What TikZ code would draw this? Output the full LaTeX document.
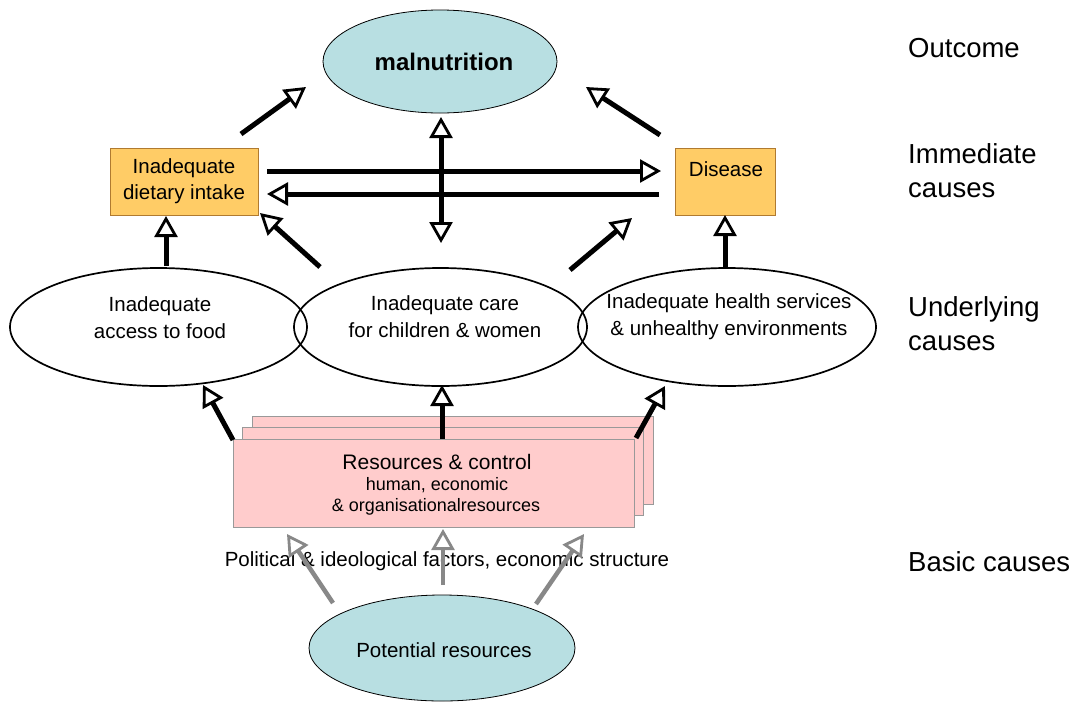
\documentclass[tikz,border=0pt]{standalone}
\usepackage{fontspec}
\setmainfont{Liberation Sans}
\usetikzlibrary{arrows.meta,shapes.geometric}
\definecolor{boxorange}{HTML}{FFCC66}
\definecolor{boxedge}{HTML}{B07A30}
\definecolor{lightblue}{HTML}{B8DFE2}
\definecolor{pinkfill}{HTML}{FFCCCC}
\definecolor{pinkedge}{HTML}{999999}
\definecolor{arrowgray}{HTML}{888888}
\tikzset{
  txt/.style={inner sep=0pt, align=center, font=\fontsize{20.5}{27}\selectfont},
  smalltxt/.style={inner sep=0pt, font=\fontsize{18}{22}\selectfont},
  sidetxt/.style={inner sep=0pt, anchor=west, align=left, font=\fontsize{27.5}{34}\selectfont},
  ebox/.style={draw=boxedge, fill=boxorange, line width=0.8pt, inner sep=0pt},
  oval/.style={ellipse, draw=black, line width=1.7pt, inner sep=0pt},
  bluoval/.style={ellipse, draw=black, fill=lightblue, line width=0.8pt, inner sep=0pt},
  resbox/.style={draw=pinkedge, fill=pinkfill, line width=1pt, inner sep=0pt, minimum width=401pt, minimum height=88pt},
  opentip/.tip={Triangle[fill=white, length=21pt, width=23pt, line width'=2.8pt]},
  bigarrow/.style={line width=5pt, -opentip},
  dblarrow/.style={line width=5pt, opentip-opentip},
  grayarrow/.style={draw=arrowgray, line width=4.5pt, -opentip}
}
\begin{document}
\begin{tikzpicture}[x=1pt,y=-1pt]
\useasboundingbox[fill=white] (0,0) rectangle (1078,702);

% outcome
\node[bluoval, minimum width=234pt, minimum height=103pt] (mal) at (440,61.5) {};
\node[txt, font=\bfseries\fontsize{24}{28}\selectfont] (maltxt) at (444,62) {malnutrition};

% immediate causes
\node[ebox, minimum width=148pt, minimum height=67pt] (diet) at (184,181.5) {};
\node[txt, font=\fontsize{20.5}{26}\selectfont] (diettxt) at (184,181) {Inadequate\\dietary intake};
\node[ebox, minimum width=100pt, minimum height=67pt] (disease) at (725,181.5) {};
\node[txt] (diseasetxt) at (726,169) {Disease};

% underlying causes
\node[oval, minimum width=297pt, minimum height=118pt] (food) at (158.5,327) {};
\node[oval, minimum width=293pt, minimum height=118pt] (care) at (440.5,327) {};
\node[oval, minimum width=298pt, minimum height=118pt] (health) at (727,327) {};
\node[txt] (foodtxt) at (160,318) {Inadequate\\access to food};
\node[txt] (caretxt) at (445,317) {Inadequate care\\for children \& women};
\node[txt] (healthtxt) at (729,317) {Inadequate health services\\\& unhealthy environments};

% resources
\node[resbox] (res3) at (452.5,460) {};
\node[resbox] (res2) at (443,471) {};
\node[resbox] (res) at (433.5,483) {};
\node[inner sep=0pt, font=\fontsize{21}{24}\selectfont] (restxt) at (437,462) {Resources \& control};
\node[smalltxt] (restxt2) at (437,485) {human, economic};
\node[smalltxt] (restxt3) at (436,507) {\& organisationalresources};

% basic
\node[txt] (poltxt) at (447,561) {Political \& ideological factors, economic structure};
\node[bluoval, minimum width=266pt, minimum height=106pt] (pot) at (442,648) {};
\node[txt] (pottxt) at (444,650) {Potential resources};

% side labels
\node[sidetxt] (l1) at (908,48) {Outcome};
\node[sidetxt] (l2) at (908,171) {Immediate\\causes};
\node[sidetxt] (l3) at (908,324) {Underlying\\causes};
\node[sidetxt] (l4) at (908,562) {Basic causes};

% arrow end coordinates
\coordinate (a1s) at (241,134);  \coordinate (a1e) at (306,87);
\coordinate (a2s) at (660,135);  \coordinate (a2e) at (586,87);
\coordinate (a3s) at (267,171);  \coordinate (a3e) at (661,171);
\coordinate (a4s) at (659,194);  \coordinate (a4e) at (267,194);
\coordinate (a5s) at (441,117);  \coordinate (a5e) at (441,243);
\coordinate (a6s) at (166,266);  \coordinate (a6e) at (166,216);
\coordinate (a7s) at (320,267);  \coordinate (a7e) at (260,213);
\coordinate (a8s) at (570,270);  \coordinate (a8e) at (632,218);
\coordinate (a9s) at (725,267);  \coordinate (a9e) at (725,215);
\coordinate (b1s) at (233,440);  \coordinate (b1e) at (203,385);
\coordinate (b2s) at (442,439);  \coordinate (b2e) at (442,385);
\coordinate (b3s) at (636,438);  \coordinate (b3e) at (665,386);
\coordinate (g1s) at (333,603);  \coordinate (g1e) at (287,534);
\coordinate (g2s) at (443,585);  \coordinate (g2e) at (443,529);
\coordinate (g3s) at (536,604);  \coordinate (g3e) at (584,534);

\draw[bigarrow] (a1s) -- (a1e);
\draw[bigarrow] (a2s) -- (a2e);
\draw[bigarrow] (a3s) -- (a3e);
\draw[bigarrow] (a4s) -- (a4e);
\draw[dblarrow] (a5s) -- (a5e);
\draw[bigarrow] (a6s) -- (a6e);
\draw[bigarrow] (a7s) -- (a7e);
\draw[bigarrow] (a8s) -- (a8e);
\draw[bigarrow] (a9s) -- (a9e);
\draw[bigarrow] (b1s) -- (b1e);
\draw[bigarrow] (b2s) -- (b2e);
\draw[bigarrow] (b3s) -- (b3e);
\draw[grayarrow] (g1s) -- (g1e);
\draw[grayarrow] (g2s) -- (g2e);
\draw[grayarrow] (g3s) -- (g3e);
\end{tikzpicture}
\end{document}
